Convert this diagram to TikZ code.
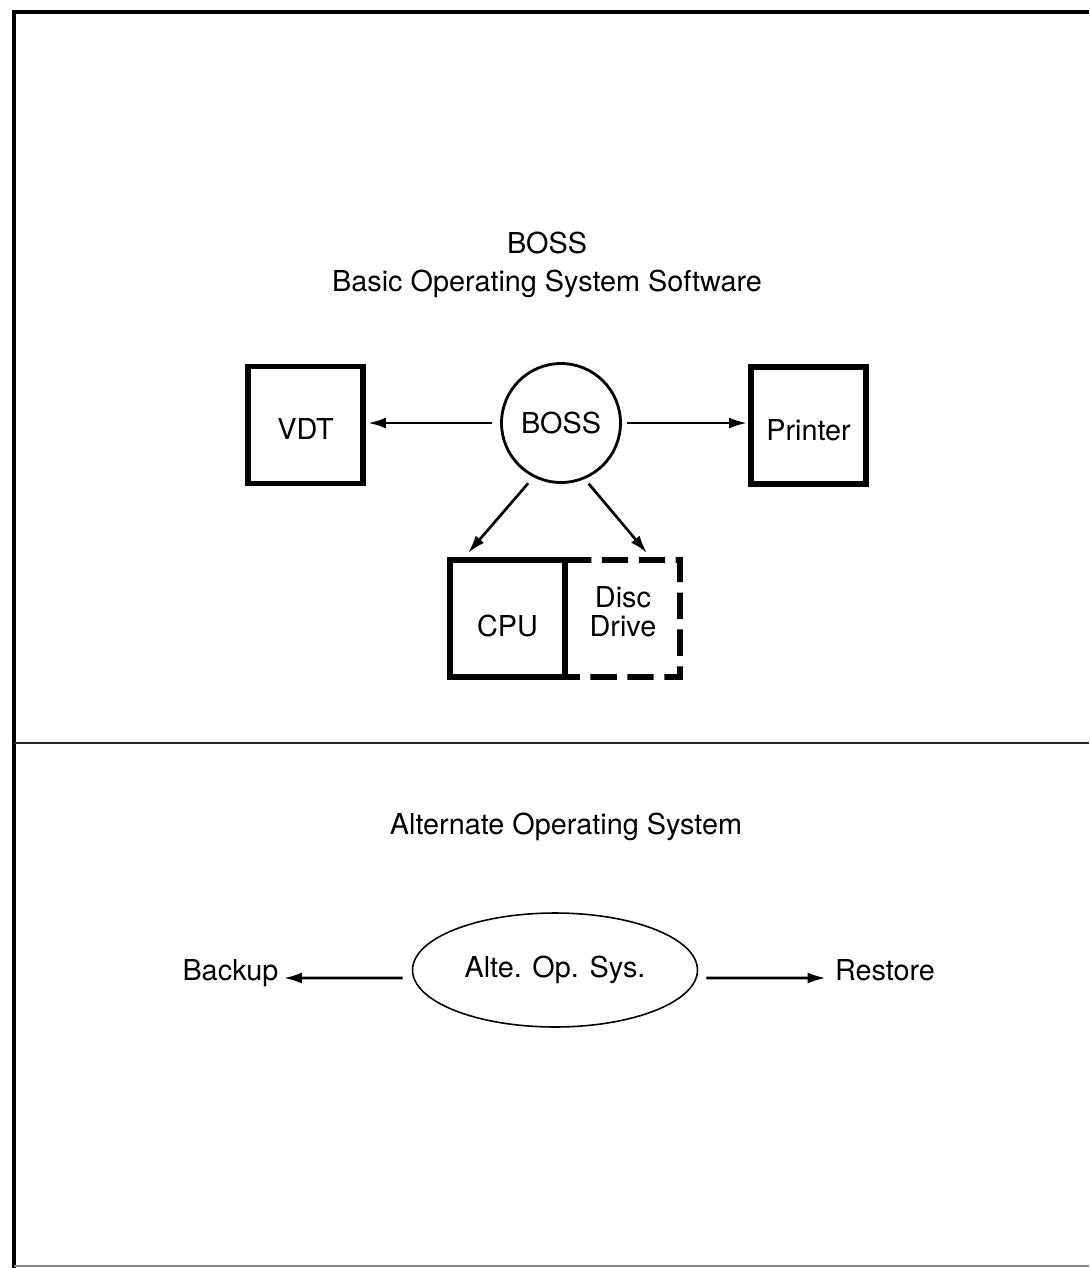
\documentclass[tikz,border=0pt]{standalone}
\usepackage{fontspec}
\setmainfont{TeX Gyre Heros}
\usetikzlibrary{arrows.meta,shapes.geometric}
\begin{document}
\begin{tikzpicture}[x=0.02cm,y=-0.02cm,
  every node/.style={font=\fontsize{16.4}{16.4}\selectfont},
  thickbox/.style={draw,line width=3.3pt,minimum width=2.3cm,minimum height=2.34cm,inner sep=0pt,outer sep=0pt},
  arr/.style={line width=1.5pt,-{Latex[length=0.36cm,width=0.22cm]}},
  lbl/.style={inner sep=0pt}]
\useasboundingbox (0,0) rectangle (1089,1268);
% frame
\draw[line width=2.3pt] (14,1268) -- (14,12) -- (1089,12);
\draw[line width=0.9pt,black!85] (14,743) -- (1089,743);
\draw[line width=0.8pt,black!45] (14,1266) -- (1089,1266);
% titles
\node[lbl,anchor=base] (t1) at (547,253) {BOSS};
\node[lbl,anchor=base] (t2) at (547,291) {Basic Operating System Software};
\node[lbl,anchor=base] (t3) at (566,834) {Alternate Operating System};
% upper diagram
\node[draw,circle,line width=1.6pt,minimum size=2.38cm,inner sep=0pt] (boss) at (561,423) {BOSS};
\node[thickbox] (vdt) at (305.5,425) {};
\node[lbl] (vdtt) at (305.5,429) {VDT};
\node[thickbox] (printer) at (808.5,425.5) {};
\node[lbl] (printert) at (808.5,430) {Printer};
\node[thickbox] (cpu) at (507.5,618.5) {};
\node[lbl] (cput) at (507.5,626) {CPU};
\coordinate (dne) at (680,560);
\coordinate (dse) at (680,677);
\node[lbl,align=center] (disc) at (623,612) {Disc\\Drive};
\draw[line width=3.3pt,dash pattern=on 15pt off 6pt,line join=miter] (cpu.north east) -- (dne) -- (dse) -- (cpu.south east);
\draw[arr,shorten <=0.16cm] (boss.west) -- ([xshift=0.1cm]vdt.east |- boss.west);
\draw[arr,shorten <=0.1cm] (boss.east) -- ([xshift=-0.08cm]printer.west |- boss.east);
\draw[arr,shorten <=0.16cm] (boss.243) -- ([xshift=0.36cm,yshift=0.14cm]cpu.north west);
\draw[arr,shorten <=0.12cm] (boss.293) -- ([xshift=-0.66cm,yshift=0.14cm]dne);
% lower diagram
\node[draw,ellipse,line width=0.9pt,minimum width=5.7cm,minimum height=2.28cm,inner sep=0pt] (alt) at (555,970) {Alte. Op. Sys.};
\node[lbl,anchor=base] (backup) at (230.5,980) {Backup};
\node[lbl,anchor=base] (restore) at (885,980) {Restore};
\draw[arr] ([xshift=-0.18cm,yshift=-0.16cm]alt.west) -- ([xshift=0.1cm,yshift=0.04cm]backup.base east);
\draw[arr] ([xshift=0.16cm,yshift=-0.16cm]alt.east) -- ([xshift=-0.18cm,yshift=0.04cm]restore.base west);
\end{tikzpicture}
\end{document}
